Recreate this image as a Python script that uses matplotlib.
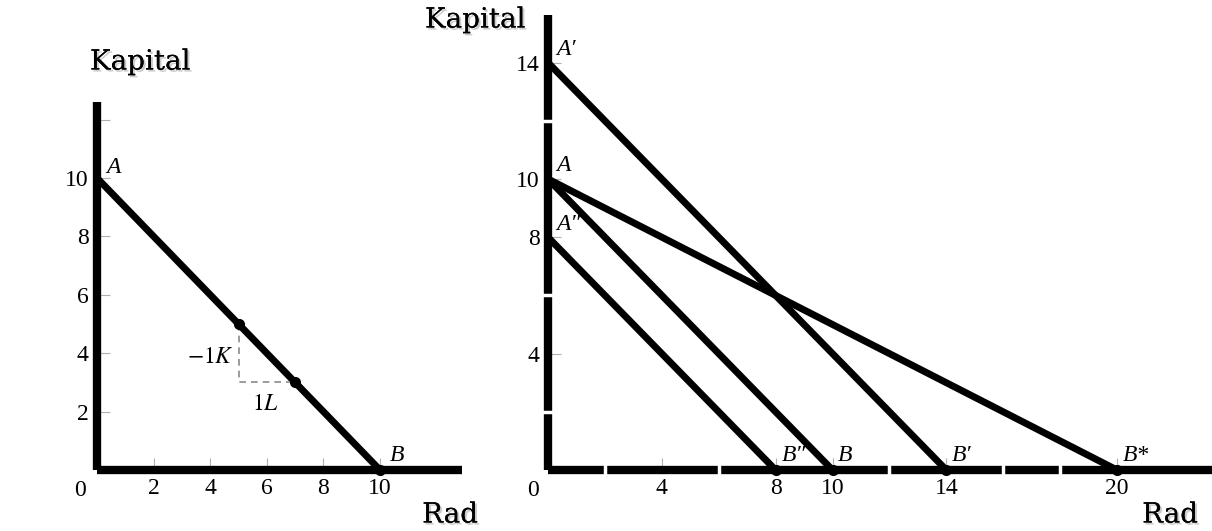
import matplotlib
matplotlib.use('Agg')
import matplotlib.pyplot as plt
import matplotlib.patheffects as pe

W, H = 1212, 531

# left panel: one budget line with slope -1
left_x_ticks = [2, 4, 6, 8, 10]
left_y_ticks = [2, 4, 6, 8, 10, 12]
left_y_labels = ['2', '4', '6', '8', '10', '']
left_line_x = [0, 10]
left_line_y = [10, 0]
left_pts_x = [5, 7, 10]
left_pts_y = [5, 3, 0]

# right panel: shifted / rotated budget lines
right_x_ticks = [4, 8, 10, 14, 20]
right_y_ticks = [4, 8, 10, 14]
right_x_gaps = [2, 6, 12, 16, 18]
right_y_gaps = [2, 6, 12]
right_lines = [  # (K intercept, L intercept, K label, L label)
    (14, 14, "A\u2032", "B\u2032"),
    (10, 10, "A", "B"),
    (10, 20, "A", "B*"),
    (8, 8, "A\u2033", "B\u2033"),
]

plt.rcParams['mathtext.fontset'] = 'stix'
tick_font = dict(family='Liberation Serif', size=17)
pt_font = dict(family=['Liberation Serif', 'DejaVu Serif'], style='italic', size=17)
title_font = dict(family='DejaVu Serif', size=20)
shadow = [pe.withSimplePatchShadow(offset=(1.5, -1.5), shadow_rgbFace='#999999', alpha=0.5), pe.Normal()]

fig = plt.figure(figsize=(W / 100, H / 100), dpi=100)


def px_axes(x0, y0, x1, y1):
    return fig.add_axes([x0 / W, 1 - y1 / H, (x1 - x0) / W, (y1 - y0) / H])


def style(ax, xmax, ymax):
    ax.set_xlim(0, xmax)
    ax.set_ylim(0, ymax)
    for s in ('top', 'right'):
        ax.spines[s].set_visible(False)
    for s in ('left', 'bottom'):
        ax.spines[s].set_linewidth(6)
        ax.spines[s].set_capstyle('butt')
    ax.tick_params(direction='in', length=9, width=0.8, color='#b0b0b0', pad=6)
    for lab in ax.get_xticklabels() + ax.get_yticklabels():
        lab.set_fontfamily(tick_font['family'])
        lab.set_fontsize(tick_font['size'])
    ax.patch.set_visible(False)


# ---- left panel
ax1 = px_axes(97, 102, 462, 470)
ax1.set_xticks(left_x_ticks)
ax1.set_yticks(left_y_ticks, left_y_labels)
style(ax1, 365 / 28.3, 368 / 29.2)
ax1.plot(left_line_x, left_line_y, color='black', lw=5, solid_capstyle='butt', clip_on=False)
ax1.plot(left_pts_x, left_pts_y, 'o', color='black', ms=7, clip_on=False, zorder=5)
ax1.plot([left_pts_x[0], left_pts_x[0], left_pts_x[1]],
         [left_pts_y[0], left_pts_y[1], left_pts_y[1]],
         ls='--', color='#8a8a8a', lw=1.2, dashes=(4, 3))
ax1.text(4.0, 3.9, r'$-1K$', fontsize=17, ha='center', va='center')
ax1.text(5.95, 2.3, r'$1L$', fontsize=17, ha='center', va='center')
ax1.text(0.6, 10.35, 'A', ha='center', va='center', **pt_font)
ax1.text(10.6, 0.5, 'B', ha='center', va='center', **pt_font)

# ---- right panel
ax2 = px_axes(548, 15, 1212, 470)
ax2.set_xticks(right_x_ticks)
ax2.set_yticks(right_y_ticks)
style(ax2, 664 / 28.45, 455 / 29.1)
done = set()
for k, l, klab, llab in right_lines:
    ax2.plot([0, l], [k, 0], color='black', lw=5, solid_capstyle='butt', clip_on=False)
    ax2.plot([l], [0], 'o', color='black', ms=7, clip_on=False, zorder=5)
    ax2.text(l + 0.2, 0.5, llab, ha='left', va='center', **pt_font)
    if klab not in done:
        ax2.text(0.3, k + 0.45, klab, ha='left', va='center', **pt_font)
        done.add(klab)
for g in right_x_gaps:
    ax2.plot([g, g], [-0.2, 0.2], color='white', lw=2.5, clip_on=False, zorder=6)
for g in right_y_gaps:
    ax2.plot([-0.2, 0.2], [g, g], color='white', lw=2.5, clip_on=False, zorder=6)

# origin labels and axis titles (figure pixels)
for x, y in [(80, 490), (533, 490)]:
    fig.text(x / W, 1 - y / H, '0', ha='center', va='center', **tick_font)
for x, y, s in [(140, 62, 'Kapital'), (450, 515, 'Rad'), (475, 20, 'Kapital'), (1170, 515, 'Rad')]:
    fig.text(x / W, 1 - y / H, s, ha='center', va='center', path_effects=shadow, **title_font)

plt.savefig('out.png', dpi=100)
